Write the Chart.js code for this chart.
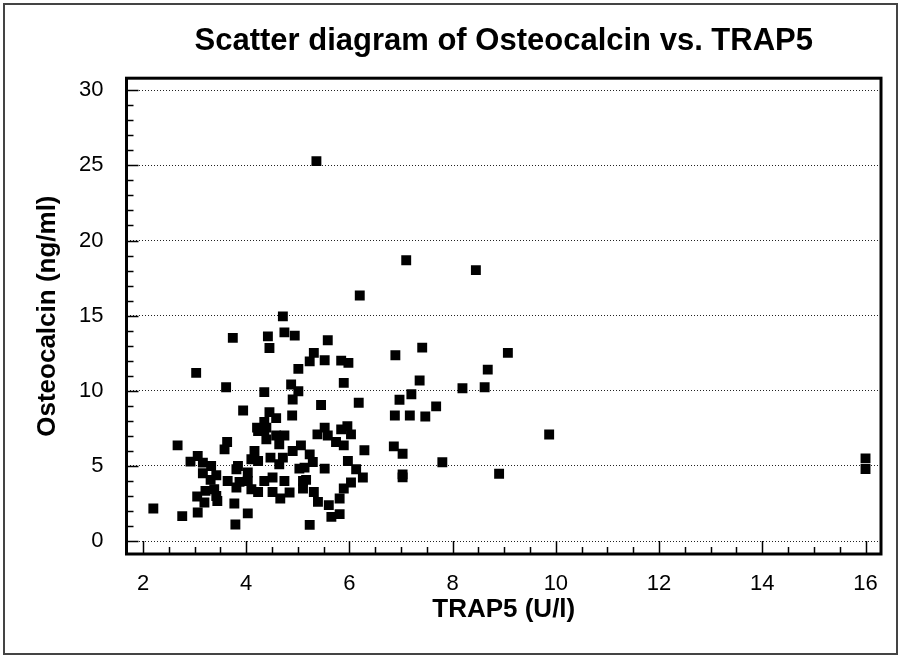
<!DOCTYPE html>
<html>
<head>
<meta charset="utf-8">
<script src="https://cdn.jsdelivr.net/npm/chart.js@4.4.1/dist/chart.umd.min.js"></script>
<style>
  html, body { margin: 0; padding: 0; background: #fff; }
  #wrap { position: relative; width: 902px; height: 659px; }
</style>
</head>
<body>
<div id="wrap"><canvas id="scatterChart" width="902" height="659"></canvas></div>
<script>
// TRAP5 (U/l) 与 Osteocalcin (ng/ml) 散点数据
const trap5 = [
  2.20, 2.67, 2.76, 3.03, 3.61, 3.74, 3.94, 3.63, 3.58, 3.06,
  2.92, 3.16, 3.32, 3.84, 3.81, 3.16, 3.42, 3.31, 3.64, 3.87,
  3.81, 4.03, 3.21, 3.05, 3.38, 3.42, 3.44, 3.19, 3.77, 3.06,
  4.03, 3.79, 4.71, 4.42, 4.74, 4.94, 4.45, 5.58, 5.31, 5.23,
  5.52, 5.84, 5.98, 5.01, 5.89, 4.87, 4.35, 5.01, 4.90, 5.45,
  6.18, 4.45, 4.58, 4.89, 4.35, 4.21, 4.39, 5.52, 5.96, 5.84,
  4.23, 4.35, 4.39, 4.58, 4.74, 4.64, 5.38, 5.58, 6.03, 5.74,
  5.89, 6.29, 5.06, 4.90, 4.16, 4.10, 4.23, 4.47, 4.71, 5.23,
  5.29, 5.03, 5.13, 4.64, 5.52, 5.97, 6.13, 6.26, 4.03, 4.35,
  4.51, 4.74, 5.10, 5.16, 6.03, 4.10, 4.23, 4.51, 4.84, 4.66,
  5.10, 5.31, 5.89, 5.81, 5.39, 5.60, 5.65, 5.81, 5.23, 5.36,
  6.20, 7.10, 8.45, 6.89, 7.41, 9.07, 8.68, 7.36, 8.19, 8.62,
  6.97, 7.20, 7.68, 6.88, 7.17, 7.47, 6.86, 7.03, 7.80, 7.03,
  7.03, 8.90, 9.87, 16.0, 16.0
];
const osteocalcin = [
  2.17, 6.37, 1.66, 11.19, 10.24, 13.52, 8.69, 6.59, 6.10, 5.66,
  5.29, 5.22, 5.00, 5.00, 4.78, 4.51, 4.38, 4.07, 4.00, 3.94,
  3.56, 4.00, 3.34, 2.97, 3.45, 3.00, 2.67, 2.57, 2.50, 1.90,
  1.84, 1.10, 14.95, 13.62, 13.89, 13.67, 12.85, 13.36, 12.52, 11.96,
  12.03, 12.01, 11.86, 11.46, 10.53, 10.42, 9.91, 9.97, 9.42, 9.05,
  9.20, 8.58, 8.18, 8.36, 7.92, 7.55, 7.55, 7.55, 7.65, 7.43,
  7.32, 7.32, 6.77, 7.03, 7.03, 6.44, 7.10, 7.03, 7.10, 6.59,
  6.37, 6.04, 6.37, 5.99, 5.99, 5.44, 5.33, 5.55, 5.55, 5.77,
  5.26, 4.82, 4.89, 5.11, 4.82, 5.33, 4.78, 4.23, 4.56, 4.00,
  4.23, 4.00, 4.00, 4.07, 3.90, 3.45, 3.27, 3.27, 3.23, 2.83,
  3.50, 3.27, 3.50, 2.83, 2.61, 2.39, 1.61, 1.79, 1.08, 25.28,
  16.34, 18.69, 18.03, 12.36, 12.87, 12.52, 11.41, 10.68, 10.17, 10.24,
  9.40, 9.77, 8.96, 8.36, 8.36, 8.29, 6.30, 5.81, 5.25, 4.44,
  4.24, 4.48, 7.09, 5.50, 4.80
];
const xTicks = [2, 4, 6, 8, 10, 12, 14, 16];
const yTicks = [0, 5, 10, 15, 20, 25, 30];

const FONT = "'Liberation Sans', Arial, sans-serif";
const points = trap5.map((x, i) => ({ x: x, y: osteocalcin[i] }));

// 外框 + 图区粗框 + 向内刻度
const framePlugin = {
  id: "frame",
  beforeDraw(c) {
    const ctx = c.ctx;
    ctx.save();
    ctx.fillStyle = "#fff";
    ctx.fillRect(0, 0, c.width, c.height);
    ctx.strokeStyle = "#444";
    ctx.lineWidth = 2;
    ctx.strokeRect(4, 4, 893, 650);
    ctx.restore();
  },
  afterDatasetsDraw(c) {
    const ctx = c.ctx, a = c.chartArea;
    const xs = c.scales.x, ys = c.scales.y;
    ctx.save();
    ctx.strokeStyle = "#000";
    ctx.lineWidth = 1.5;
    ctx.beginPath();
    for (let v = 2; v <= 16; v += 0.5) {
      const px = Math.round(xs.getPixelForValue(v)) + 0.5;
      const len = v % 2 === 0 ? 13 : 7;
      ctx.moveTo(px, a.bottom);
      ctx.lineTo(px, a.bottom - len);
    }
    for (let v = 0; v <= 30; v += 1) {
      const py = Math.round(ys.getPixelForValue(v)) + 0.5;
      const len = v % 5 === 0 ? 12 : 7;
      ctx.moveTo(a.left, py);
      ctx.lineTo(a.left + len, py);
    }
    ctx.stroke();
    ctx.lineWidth = 3;
    ctx.strokeRect(a.left, a.top, a.right - a.left, a.bottom - a.top);
    ctx.restore();
  }
};

new Chart(document.getElementById("scatterChart"), {
  type: "scatter",
  data: {
    datasets: [{
      label: "Osteocalcin vs. TRAP5",
      data: points,
      pointStyle: "rect",
      pointRadius: 7,
      pointBorderWidth: 0,
      backgroundColor: "#000",
      borderColor: "#000"
    }]
  },
  options: {
    responsive: false,
    animation: false,
    layout: { padding: { left: 0, top: 0, right: 21, bottom: 0 } },
    plugins: {
      legend: { display: false },
      tooltip: { enabled: false },
      title: {
        display: true,
        fullSize: false,
        text: "Scatter diagram of Osteocalcin vs. TRAP5",
        color: "#000",
        font: { family: FONT, size: 31, weight: "bold", lineHeight: 1.2 },
        padding: { top: 23, bottom: 18 }
      }
    },
    scales: {
      x: {
        type: "linear",
        min: 1.68, max: 16.3,
        afterFit(s) { s.height = 105; },
        afterBuildTicks(s) { s.ticks = xTicks.map(v => ({ value: v })); },
        grid: { display: false, drawTicks: false },
        border: { display: false },
        ticks: { color: "#000", font: { family: FONT, size: 22 }, padding: 17, maxRotation: 0 },
        title: {
          display: true, text: "TRAP5 (U/l)", color: "#000",
          font: { family: FONT, size: 26, weight: "bold", lineHeight: 1.2 },
          padding: { top: 0, bottom: 34 }
        }
      },
      y: {
        type: "linear",
        min: -0.86, max: 30.8,
        afterFit(s) { s.width = 126.5; },
        afterBuildTicks(s) { s.ticks = yTicks.map(v => ({ value: v })); },
        grid: { color: "#222", lineWidth: 1, drawTicks: false },
        border: { display: false, dash: [1, 2] },
        ticks: { color: "#000", font: { family: FONT, size: 22 }, padding: 23 },
        title: {
          display: true, text: "Osteocalcin (ng/ml)", color: "#000",
          font: { family: FONT, size: 26, weight: "bold", lineHeight: 1.2 },
          padding: { top: 32, bottom: 0 }
        }
      }
    }
  },
  plugins: [framePlugin]
});
</script>
</body>
</html>
